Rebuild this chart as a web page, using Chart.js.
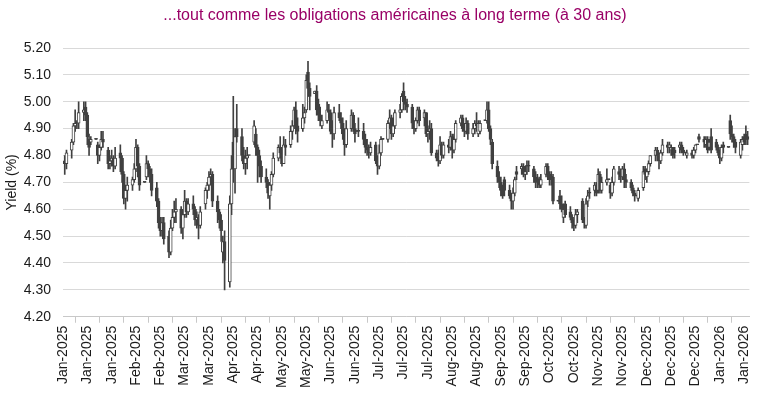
<!DOCTYPE html>
<html lang="fr">
<head>
  <meta charset="UTF-8">
  <title>Obligations américaines à 30 ans</title>
  <script src="https://cdn.jsdelivr.net/npm/chart.js"></script>
  <style>
    body { margin: 0; padding: 0; background: #fff; }
    canvas { display: block; }
  </style>
</head>
<body>
  <canvas id="yieldChart" width="764" height="398"></canvas>

  <script>
    // Titles
    const chartTitle = '...tout comme les obligations américaines à long terme (à 30 ans)';
    const yTitle = 'Yield (%)';

    // x axis: one tick every 14 days from 1 Jan 2025
    const tickLabels = ['Jan-2025', 'Jan-2025', 'Jan-2025', 'Feb-2025', 'Feb-2025', 'Mar-2025', 'Mar-2025',
      'Apr-2025', 'Apr-2025', 'May-2025', 'May-2025', 'Jun-2025', 'Jun-2025', 'Jul-2025', 'Jul-2025',
      'Jul-2025', 'Aug-2025', 'Aug-2025', 'Sep-2025', 'Sep-2025', 'Oct-2025', 'Oct-2025', 'Nov-2025',
      'Nov-2025', 'Dec-2025', 'Dec-2025', 'Dec-2025', 'Jan-2026', 'Jan-2026'];

    // daily [open, high, low, close], one row per week (Mon..Fri)
    const ohlc = [
      [4.78,4.80,4.73,4.77], [4.77,4.82,4.75,4.81],                                                                 // Jan 2
      [4.82,4.86,4.79,4.85], [4.85,4.92,4.84,4.91], [4.91,4.97,4.89,4.92], [4.92,4.93,4.90,4.92], [4.92,5.00,4.90,4.96], // Jan 6
      [4.96,5.00,4.93,4.97], [4.98,5.00,4.93,4.95], [4.95,4.96,4.84,4.87], [4.86,4.88,4.80,4.83], [4.85,4.87,4.84,4.86], // Jan 13
      [4.86,4.86,4.86,4.86], [4.84,4.85,4.77,4.80], [4.80,4.84,4.78,4.83], [4.83,4.89,4.82,4.86], [4.86,4.89,4.83,4.85], // Jan 20
      [4.82,4.83,4.75,4.77], [4.77,4.80,4.75,4.78], [4.78,4.82,4.76,4.79], [4.79,4.80,4.74,4.76], [4.76,4.83,4.75,4.79], // Jan 27
      [4.81,4.84,4.74,4.79], [4.79,4.80,4.70,4.73], [4.73,4.74,4.62,4.64], [4.64,4.69,4.60,4.67], [4.67,4.72,4.63,4.69], // Feb 3
      [4.69,4.72,4.67,4.71], [4.71,4.77,4.70,4.75], [4.75,4.86,4.74,4.83], [4.83,4.84,4.72,4.76], [4.76,4.77,4.67,4.69], // Feb 10
      [4.70,4.70,4.70,4.70], [4.72,4.80,4.71,4.77], [4.77,4.78,4.72,4.75], [4.75,4.76,4.70,4.73], [4.73,4.75,4.65,4.67], // Feb 17
      [4.68,4.70,4.61,4.63], [4.63,4.64,4.53,4.55], [4.55,4.57,4.50,4.52], [4.52,4.57,4.50,4.55], [4.55,4.57,4.47,4.49], // Feb 24
      [4.50,4.52,4.42,4.44], [4.44,4.56,4.43,4.53], [4.53,4.60,4.52,4.57], [4.57,4.63,4.55,4.59], [4.59,4.64,4.55,4.60], // Mar 3
      [4.60,4.61,4.51,4.53], [4.53,4.60,4.49,4.58], [4.58,4.67,4.57,4.63], [4.63,4.64,4.57,4.59], [4.59,4.64,4.58,4.62], // Mar 10
      [4.62,4.65,4.58,4.60], [4.60,4.61,4.54,4.56], [4.56,4.59,4.53,4.57], [4.57,4.58,4.49,4.54], [4.54,4.61,4.53,4.59], // Mar 17
      [4.62,4.68,4.60,4.67], [4.67,4.70,4.64,4.69], [4.69,4.74,4.67,4.72], [4.72,4.75,4.69,4.73], [4.73,4.74,4.61,4.63], // Mar 24
      [4.63,4.65,4.55,4.59], [4.59,4.60,4.53,4.56], [4.56,4.58,4.48,4.52], [4.44,4.50,4.40,4.48], [4.48,4.52,4.30,4.41], // Mar 31
      [4.33,4.65,4.31,4.62], [4.62,4.80,4.58,4.75], [4.85,5.02,4.70,4.75], [4.75,4.90,4.66,4.87], [4.90,4.99,4.85,4.87], // Apr 7
      [4.87,4.90,4.78,4.80], [4.80,4.83,4.75,4.77], [4.77,4.82,4.73,4.79], [4.79,4.83,4.75,4.80], [4.80,4.80,4.80,4.80], // Apr 14
      [4.85,4.93,4.84,4.91], [4.88,4.90,4.80,4.83], [4.83,4.84,4.70,4.80], [4.80,4.82,4.72,4.76], [4.76,4.78,4.70,4.72], // Apr 21
      [4.72,4.75,4.68,4.70], [4.70,4.71,4.64,4.66], [4.65,4.70,4.60,4.69], [4.69,4.74,4.67,4.73], [4.73,4.81,4.72,4.79], // Apr 28
      [4.79,4.84,4.78,4.83], [4.83,4.87,4.79,4.81], [4.81,4.82,4.76,4.77], [4.77,4.87,4.77,4.84], [4.84,4.86,4.80,4.83], // May 5
      [4.84,4.91,4.83,4.89], [4.89,4.93,4.86,4.91], [4.91,4.98,4.90,4.97], [4.97,5.00,4.88,4.91], [4.91,4.94,4.85,4.89], // May 12
      [4.90,4.99,4.89,4.94], [4.94,4.98,4.92,4.96], [4.97,5.10,4.96,5.08], [5.11,5.15,5.02,5.05], [5.05,5.07,4.97,5.02], // May 19
      [5.03,5.04,5.03,5.04], [5.04,5.06,4.95,4.97], [4.99,5.01,4.93,4.95], [4.95,4.98,4.91,4.93], [4.91,4.95,4.90,4.93], // May 26
      [4.93,5.00,4.92,4.97], [4.97,4.99,4.94,4.96], [4.96,4.97,4.88,4.89], [4.89,4.93,4.83,4.88], [4.88,4.98,4.86,4.96], // Jun 2
      [4.96,4.99,4.93,4.94], [4.94,4.96,4.90,4.92], [4.92,4.94,4.86,4.88], [4.88,4.90,4.80,4.84], [4.84,4.93,4.83,4.90], // Jun 9
      [4.90,4.97,4.89,4.95], [4.95,4.96,4.89,4.90], [4.90,4.92,4.85,4.88], [4.89,4.89,4.89,4.89], [4.89,4.94,4.87,4.89], // Jun 16
      [4.89,4.92,4.84,4.86], [4.86,4.88,4.81,4.83], [4.83,4.86,4.80,4.82], [4.82,4.84,4.79,4.81], [4.81,4.85,4.80,4.83], // Jun 23
      [4.84,4.85,4.77,4.78], [4.78,4.80,4.73,4.76], [4.76,4.84,4.75,4.81], [4.81,4.87,4.80,4.86], [4.86,4.86,4.86,4.86], // Jun 30
      [4.86,4.93,4.85,4.92], [4.92,4.97,4.90,4.94], [4.94,4.95,4.86,4.88], [4.88,4.94,4.87,4.91], [4.91,4.97,4.90,4.96], // Jul 7
      [4.96,4.99,4.94,4.97], [4.97,5.03,4.96,5.02], [5.04,5.07,4.97,5.00], [5.00,5.02,4.97,4.99], [4.99,5.01,4.96,4.98], // Jul 14
      [4.98,4.99,4.90,4.92], [4.92,4.93,4.88,4.90], [4.90,4.94,4.89,4.93], [4.93,4.98,4.92,4.97], [4.97,4.98,4.91,4.93], // Jul 21
      [4.94,4.97,4.91,4.96], [4.96,4.96,4.87,4.88], [4.88,4.91,4.85,4.89], [4.89,4.93,4.86,4.90], [4.90,4.92,4.80,4.81], // Jul 28
      [4.81,4.82,4.78,4.79], [4.79,4.82,4.76,4.78], [4.78,4.87,4.77,4.84], [4.84,4.85,4.79,4.80], [4.80,4.85,4.79,4.84], // Aug 4
      [4.84,4.86,4.81,4.83], [4.83,4.89,4.82,4.87], [4.87,4.88,4.79,4.82], [4.82,4.88,4.81,4.86], [4.86,4.93,4.85,4.92], // Aug 11
      [4.92,4.95,4.91,4.94], [4.94,4.95,4.89,4.90], [4.90,4.92,4.87,4.89], [4.89,4.94,4.88,4.92], [4.92,4.93,4.86,4.88], // Aug 18
      [4.88,4.92,4.87,4.90], [4.90,4.93,4.88,4.92], [4.92,4.96,4.89,4.91], [4.88,4.93,4.87,4.92], [4.89,4.93,4.88,4.92], // Aug 25
      [4.93,4.93,4.93,4.93], [4.93,5.00,4.92,4.97], [4.97,5.00,4.89,4.90], [4.90,4.91,4.84,4.86], [4.85,4.86,4.75,4.77], // Sep 1
      [4.76,4.78,4.70,4.72], [4.72,4.74,4.68,4.70], [4.70,4.72,4.65,4.67], [4.67,4.69,4.64,4.65], [4.71,4.72,4.65,4.67], // Sep 8
      [4.67,4.69,4.64,4.65], [4.65,4.66,4.60,4.63], [4.63,4.68,4.60,4.66], [4.66,4.72,4.65,4.71], [4.74,4.76,4.71,4.73], // Sep 15
      [4.75,4.77,4.73,4.76], [4.76,4.77,4.72,4.73], [4.73,4.76,4.71,4.74], [4.76,4.78,4.73,4.76], [4.76,4.78,4.74,4.76], // Sep 22
      [4.75,4.76,4.70,4.72], [4.72,4.74,4.68,4.70], [4.71,4.73,4.68,4.71], [4.71,4.72,4.68,4.69], [4.69,4.73,4.68,4.71], // Sep 29
      [4.73,4.77,4.72,4.76], [4.76,4.77,4.71,4.73], [4.73,4.74,4.69,4.71], [4.72,4.74,4.69,4.72], [4.72,4.73,4.62,4.63], // Oct 6
      [4.63,4.63,4.63,4.63], [4.65,4.67,4.60,4.62], [4.62,4.65,4.59,4.60], [4.57,4.62,4.55,4.60], [4.62,4.63,4.57,4.58], // Oct 13
      [4.59,4.61,4.56,4.57], [4.57,4.58,4.53,4.55], [4.55,4.56,4.52,4.54], [4.54,4.60,4.53,4.58], [4.58,4.60,4.55,4.59], // Oct 20
      [4.63,4.64,4.55,4.56], [4.56,4.57,4.53,4.55], [4.54,4.64,4.53,4.62], [4.63,4.67,4.61,4.65], [4.66,4.68,4.64,4.66], // Oct 27
      [4.67,4.70,4.65,4.69], [4.69,4.70,4.65,4.66], [4.67,4.75,4.66,4.73], [4.73,4.74,4.66,4.67], [4.67,4.72,4.66,4.70], // Nov 3
      [4.70,4.75,4.69,4.71], [4.71,4.71,4.71,4.71], [4.69,4.70,4.64,4.66], [4.66,4.72,4.65,4.70], [4.70,4.76,4.69,4.75], // Nov 10
      [4.74,4.76,4.71,4.73], [4.73,4.75,4.70,4.72], [4.72,4.76,4.71,4.75], [4.75,4.77,4.68,4.71], [4.71,4.73,4.68,4.70], // Nov 17
      [4.70,4.71,4.67,4.68], [4.68,4.69,4.65,4.66], [4.66,4.67,4.63,4.65], [4.65,4.65,4.65,4.65], [4.64,4.68,4.63,4.67], // Nov 24
      [4.68,4.76,4.67,4.74], [4.75,4.76,4.71,4.73], [4.72,4.75,4.70,4.74], [4.74,4.78,4.73,4.77], [4.77,4.80,4.76,4.80], // Dec 1
      [4.80,4.83,4.78,4.82], [4.82,4.83,4.78,4.80], [4.80,4.81,4.75,4.78], [4.78,4.82,4.77,4.81], [4.81,4.86,4.80,4.84], // Dec 8
      [4.84,4.85,4.81,4.83], [4.83,4.85,4.81,4.84], [4.82,4.84,4.80,4.83], [4.83,4.83,4.79,4.80], [4.82,4.83,4.79,4.81], // Dec 15
      [4.83,4.85,4.81,4.84], [4.84,4.85,4.81,4.82], [4.82,4.83,4.80,4.81], [4.81,4.81,4.81,4.81], [4.80,4.82,4.79,4.81], // Dec 22
      [4.81,4.82,4.79,4.80], [4.80,4.83,4.79,4.82], [4.82,4.84,4.81,4.84], [4.84,4.84,4.84,4.84], [4.87,4.88,4.85,4.86], // Dec 29
      [4.86,4.87,4.83,4.85], [4.84,4.87,4.83,4.86], [4.86,4.87,4.81,4.82], [4.83,4.86,4.82,4.85], [4.87,4.90,4.81,4.82], // Jan 5
      [4.85,4.86,4.82,4.83], [4.83,4.84,4.80,4.81], [4.81,4.82,4.77,4.79], [4.79,4.84,4.78,4.83], [4.84,4.85,4.81,4.83], // Jan 12
      [4.83,4.83,4.83,4.83], [4.93,4.95,4.86,4.88], [4.88,4.91,4.85,4.87], [4.87,4.88,4.83,4.85], [4.85,4.86,4.81,4.83], // Jan 19
      [4.80,4.86,4.79,4.85], [4.84,4.87,4.82,4.86], [4.87,4.88,4.84,4.85], [4.88,4.91,4.84,4.86], [4.87,4.89,4.84,4.86]  // Jan 26
    ];

    // trading days (weekdays) as day offsets from 1 Jan 2025
    const DAY = 864e5;
    const axisStart = Date.UTC(2025, 0, 1);
    const days = [];
    for (let t = Date.UTC(2025, 0, 2); t <= Date.UTC(2026, 0, 30); t += DAY) {
      const wd = new Date(t).getUTCDay();
      if (wd > 0 && wd < 6) days.push(Math.round((t - axisStart) / DAY));
    }
    if (days.length !== ohlc.length) console.warn('length mismatch', days.length, ohlc.length);

    const candleColor = '#404040';
    const font14 = { family: '"Liberation Sans", Arial, sans-serif', size: 14 };

    const wickData = ohlc.map((d, i) => ({ x: days[i], y: [d[2], d[1]] }));
    const bodyData = ohlc.map((d, i) => ({ x: days[i], y: [d[0], d[3]] }));
    const bodyFill = ohlc.map(d => d[3] > d[0] ? '#ffffff' : candleColor);

    // title drawn by hand so it can sit slightly right of the canvas centre
    const titlePlugin = {
      id: 'topTitle',
      afterDraw(chart) {
        const c = chart.ctx;
        c.save();
        c.font = '16px "Liberation Sans", Arial, sans-serif';
        c.fillStyle = '#990066';
        c.textAlign = 'center';
        c.textBaseline = 'middle';
        c.fillText(chartTitle, 395, 16);
        c.restore();
      }
    };

    const ctx = document.getElementById('yieldChart').getContext('2d');
    new Chart(ctx, {
      type: 'bar',
      data: {
        datasets: [
          {
            label: 'wick',
            data: wickData,
            backgroundColor: candleColor,
            barThickness: 1,
            grouped: false,
            order: 2
          },
          {
            label: 'body',
            data: bodyData,
            backgroundColor: bodyFill,
            borderColor: candleColor,
            borderWidth: 1,
            borderSkipped: false,
            barThickness: 3,
            minBarLength: 1,
            grouped: false,
            order: 1
          }
        ]
      },
      options: {
        responsive: false,
        animation: false,
        layout: { padding: { top: 48, right: 7, bottom: 7, left: 4 } },
        plugins: {
          legend: { display: false },
          tooltip: { enabled: false }
        },
        scales: {
          x: {
            type: 'linear',
            min: 0,
            max: 395,
            offset: false,
            grid: { display: true, drawOnChartArea: false, drawTicks: true, tickLength: 6, color: '#c8c8c8' },
            border: { color: '#c8c8c8' },
            ticks: {
              stepSize: 14,
              includeBounds: false,
              autoSkip: false,
              maxRotation: 90,
              minRotation: 90,
              padding: 3,
              color: '#1a1a1a',
              font: font14,
              callback: v => tickLabels[Math.round(v / 14)]
            }
          },
          y: {
            min: 4.2,
            max: 5.2,
            afterFit: s => { s.width = 59; },
            grid: { color: '#d9d9d9', drawTicks: false },
            border: { display: false },
            ticks: {
              stepSize: 0.1,
              padding: 12,
              color: '#1a1a1a',
              font: font14,
              callback: v => v.toFixed(2)
            },
            title: {
              display: true,
              text: yTitle,
              padding: 0,
              color: '#1a1a1a',
              font: font14
            }
          }
        }
      },
      plugins: [titlePlugin]
    });
  </script>
</body>
</html>
